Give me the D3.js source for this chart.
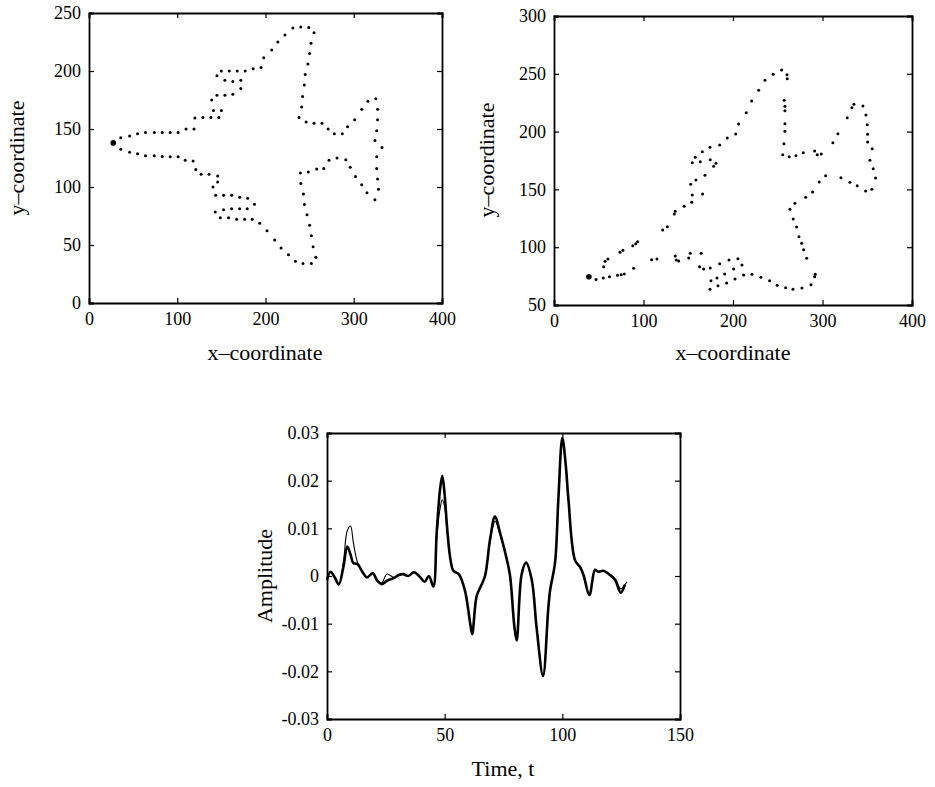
<!DOCTYPE html>
<html>
<head>
<meta charset="utf-8">
<script src="https://cdn.jsdelivr.net/npm/d3@7"></script>
<style>
  body { margin: 0; background: #fff; }
  text { font-family: "Liberation Serif", "Times New Roman", serif; fill: #000; }
</style>
</head>
<body>
<div id="chart"></div>
<script>
// outline points of the original shape, [x, y]
var shapeA = [
  [27.5,138],
  [36,142.5],[46,144],[55,146],[64,147],[74,147],[83,147],[92,147],[101,147],[110,150],[119,150],
  [120,159.5],[129,160],[138,160],[147,160],[141,166],[150,166],
  [139,175],[145,179],[154,179],[163,180],[172,185],
  [145,196],[154,192],[163,191],[172,192],
  [150,200],[159,200],[168,200],[177,200],[186,202],[195,203],[198,211.5],
  [207,218],[214,225],[222,231],[231,237],[240,238],[249,237.5],[255,233],[251.5,224],[250,215],
  [248,206],[245,197],[244,188],[242,178],[241,169],[238,160],[246,156],[255,155],[264,155],
  [271,150],[278,146],[287,146],[293,152],[301,158],[309,167],[316,174],[325,176],
  [327,167],[327,158],[326,148.5],[324,140],[332,134],[326,126],[326,116],[327,107],[328,98],
  [324,89],[315,95],[309,102],[302,109],[296,117],[291,123.5],[281,125],[272,123],[266,116],
  [258,115.5],[248.5,113],[239.5,112],[240,103],[243,94],[244,85],[247,76],[250,67],[252,58],
  [254,48.5],[257,39.5],[252,34],[242.5,34],[234,36],[226,41.6],[217.6,47.4],[210.4,54.3],
  [201.7,62.3],[193.4,68.7],[185,72.2],[176.4,72.2],[167.3,72.2],[158.2,73.5],[148.8,73.5],
  [143,78.4],[152.5,80.4],[161.6,81.3],[170.7,81.3],[179.3,81.3],[187.5,85.2],[179.8,90.2],
  [170.7,91.1],[161.6,92.8],[152.5,92.8],[143.5,92.8],[140.5,100],[145.8,104.3],[145.8,109.5],
  [136,111],[127,111],[121,115],[118,122.4],[109,123],[101,126],[92,126],[83,126.4],[74,127],
  [64,127],[55,128.7],[46,130],[36,132.5]
];

// outline points of the transformed shape, [x, y]
var shapeB = [
  [39,74.5],
  [47,72],[55,73.4],[62,74.5],[71,75.7],[75,76.2],[78.5,76.8],[89,81.7],
  [55.5,83],[57,87.8],[60.3,89.8],[73.7,95.6],[77,97.3],[88,101.3],[91.3,103],[93.5,104.8],
  [109,89.2],[115,89.8],[135.5,92.4],[136.6,88.9],[139.3,88.1],[150.5,90.7],[152.3,94.7],
  [162.7,83.1],[167.2,81.2],[164.5,94.7],
  [174.6,82],[185.1,85.7],[195.5,88.9],[200.7,81.1],[205.5,90],[210,84.6],[211.9,76],
  [221.2,76.6],[231.2,74],[240.9,71],[249.4,67],[258.8,65],[267,63.6],[277,64.7],[287.1,67.6],
  [291.2,74.5],[291.9,76.6],
  [282.3,90.4],[278.9,97.8],[276.7,103.4],[273.7,109.1],[271.1,117.5],[267.3,124.4],[263.6,132.8],
  [269.2,138],[281.2,143.2],[289,147.7],[296.3,156.4],[303.5,161.8],[320.6,160.1],[330.6,156.1],
  [338.8,153.2],[348.2,148.6],[355.2,150.1],[359.3,159.9],[356.7,167.9],[353,175.2],[355.5,185.2],
  [350.4,191],[350.4,197.7],[350,206],[348.5,214.4],[345.2,222.1],[335.1,223.6],[332.9,220.7],
  [327.6,212],[317.2,198.2],[311.6,190.4],[298.6,180.6],[294.1,180],[291.2,183.2],[278.5,181.7],
  [270.3,179.1],[262.8,178.3],[255.5,180],[256.9,189.5],[258,200.2],[258,206.8],[258,218.1],
  [258,221.9],[257.2,227.1],[260.6,245.8],[260.3,249.2],[254.3,253.3],[245,249.6],[235.7,244.4],
  [228.7,235.7],[220.8,226.5],[214.8,216.3],[206.3,206.6],[203,197.9],[193.6,194.5],[185.1,188.4],
  [174.3,186.4],[165.7,182.6],[163.4,174],[157.8,177.8],[154.5,173.1],[174.6,175.7],[178.4,170],
  [181,172.6],[168.7,162.2],[158.6,158.1],[152.7,154.4],[154.5,145.2],[166,146],
  [153.8,138.8],[145.5,135.4],[135.5,131],[134.4,128.7],[126.6,117.7],[121.4,114.9],
  [192.9,69],[190.7,76.8],[202.2,72.5],[182.1,73.4],[183.2,66.7],[175.4,71],[174.3,63.6]
];

// amplitude curves
var thickT = [0,1.5,3.3,5,7,8.6,10,11.2,13,15,17,19.4,21.4,23.2,25.5,28.5,30.5,32.4,34.5,37,39.5,
  41.5,43.3,45.2,46.6,48,49,50,51,52.3,53.7,56,58.6,60.8,61.7,63.6,65.7,67.2,69.3,71.4,73.5,76.4,
  77.8,79.6,80.6,82.7,84.6,87,89.1,91.8,94,94.8,96.9,98.3,100,101.5,102.6,105.4,107.5,109,111.5,
  113.9,115.3,117.4,120.3,122.4,124.8,126.6];
var thickA = [-0.0008,0.0009,-0.0003,-0.0018,0.002,0.0062,0.0045,0.0027,0.0025,0.0009,-0.0003,0.0006,
  -0.001,-0.0017,-0.001,-0.0004,0.0002,0.0004,0,0.0008,-0.0002,-0.0012,0,-0.0022,0.009,0.018,0.021,
  0.017,0.0104,0.004,0.0011,0.0004,-0.003,-0.0098,-0.0122,-0.0042,-0.0018,0.0001,0.0077,0.0125,
  0.0091,0.0035,0,-0.0105,-0.0135,0.0003,0.0028,-0.0008,-0.011,-0.021,-0.007,-0.003,0.0028,0.016,
  0.029,0.023,0.016,0.0033,0.0019,0.0002,-0.004,0.0013,0.0009,0.0011,0.0002,-0.0008,-0.0035,-0.0018];
var thinT = [0,1.5,3.3,5,7,8.6,10,11.2,13,15,17,19.4,21.4,23.2,25.5,28.5,30.5,32.4,34.5,37,39.5,
  41.5,43.3,45.2,46.6,48,49,50,51,52.3,53.7,56,58.6,60.8,61.7,63.6,65.7,67.2,69.3,71.4,73.5,76.4,
  77.8,79.6,80.6,82.7,84.6,87,89.1,91.8,94,94.8,96.9,98.3,100,101.5,102.6,105.4,107.5,109,111.5,
  113.9,115.3,117.4,120.3,122.4,124.8,126.6,127.5];
var thinA = [-0.0008,0.0009,-0.0003,-0.0018,0.003,0.0095,0.0105,0.007,0.0028,0.001,-0.0003,0.0006,
  -0.001,-0.0015,0.0004,-0.0003,0.0002,0.0004,0,0.0008,-0.0002,-0.0012,0,-0.0022,0.008,0.014,0.016,
  0.0145,0.0095,0.004,0.0011,0.0004,-0.003,-0.0098,-0.0122,-0.0042,-0.0018,0.0001,0.0072,0.0115,
  0.0088,0.0035,0,-0.0105,-0.0135,0.0003,0.0028,-0.0008,-0.011,-0.021,-0.007,-0.003,0.0028,0.016,
  0.029,0.023,0.016,0.0033,0.0019,0.0002,-0.004,0.0013,0.0009,0.0011,0.0002,-0.0006,-0.0027,-0.0018,-0.0012];

// tick values
var xyTicksX = [0, 100, 200, 300, 400];
var leftTicksY = [0, 50, 100, 150, 200, 250];
var rightTicksY = [50, 100, 150, 200, 250, 300];
var timeTicks = [0, 50, 100, 150];
var ampTicks = [-0.03, -0.02, -0.01, 0, 0.01, 0.02, 0.03];

var W = 935, H = 787;
var serif = "'Liberation Serif', 'Times New Roman', serif";
var svg = d3.select("#chart").append("svg")
    .attr("width", W)
    .attr("height", H)
    .style("font-family", serif);

// draws a boxed frame with inward ticks on all four sides
function frame(g, x, y, xt, yt, xfmt, yfmt) {
    var x0 = x.range()[0], x1 = x.range()[1];
    var y0 = y.range()[0], y1 = y.range()[1];

    var axes = [];
    axes.push(g.append("g").attr("transform", "translate(0," + y0 + ")")
        .call(d3.axisBottom(x).tickValues(xt).tickSize(-5).tickPadding(9).tickFormat(xfmt)));
    axes.push(g.append("g").attr("transform", "translate(0," + y1 + ")")
        .call(d3.axisTop(x).tickValues(xt).tickSize(-5).tickFormat("")));
    axes.push(g.append("g").attr("transform", "translate(" + x0 + ",0)")
        .call(d3.axisLeft(y).tickValues(yt).tickSize(-5).tickPadding(8).tickFormat(yfmt)));
    axes.push(g.append("g").attr("transform", "translate(" + x1 + ",0)")
        .call(d3.axisRight(y).tickValues(yt).tickSize(-5).tickFormat("")));

    // d3 puts sans-serif 10px on each axis group, swap it for the serif face
    axes.forEach(function(a){
        a.attr("font-family", serif).attr("font-size", 18);
    });

    g.selectAll(".domain").attr("stroke", "#000").attr("stroke-width", 1.8);
    g.selectAll(".tick line").attr("stroke", "#000").attr("stroke-width", 1.2);
    g.selectAll(".tick text").attr("fill", "#000");
}

// scatter panel
function dotPanel(points, xr, yr, yDomain, yTicks, xLabelPos, yLabelPos) {
    var x = d3.scaleLinear().domain([0, 400]).range(xr);
    var y = d3.scaleLinear().domain(yDomain).range(yr);
    var g = svg.append("g");

    frame(g, x, y, xyTicksX, yTicks, d3.format("d"), d3.format("d"));

    g.selectAll("circle.pt")
        .data(points)
        .enter()
        .append("circle")
        .attr("class", "pt")
        .attr("cx", function(d){ return x(d[0]); })
        .attr("cy", function(d){ return y(d[1]); })
        // first point is the bigger starting dot
        .attr("r", function(d, i){ return i === 0 ? 2.8 : 1.5; })
        .attr("fill", "#000");

    g.append("text")
        .attr("x", xLabelPos[0]).attr("y", xLabelPos[1])
        .attr("text-anchor", "middle")
        .style("font-size", "22px")
        .text("x\u2013coordinate");

    g.append("text")
        .attr("transform", "translate(" + yLabelPos[0] + "," + yLabelPos[1] + ") rotate(-90)")
        .attr("text-anchor", "middle")
        .style("font-size", "22px")
        .text("y\u2013coordinate");
}

dotPanel(shapeA, [89, 442], [303, 13], [0, 250], leftTicksY, [265, 360], [24, 158]);
dotPanel(shapeB, [554, 912], [305, 16], [50, 300], rightTicksY, [733, 360], [494, 160]);

// amplitude panel
var tx = d3.scaleLinear().domain([0, 150]).range([327, 680]);
var ay = d3.scaleLinear().domain([-0.03, 0.03]).range([719, 433]);
var g3 = svg.append("g");

frame(g3, tx, ay, timeTicks, ampTicks, d3.format("d"), function(d){
    return d === 0 ? "0" : d3.format(".2f")(d).replace("\u2212", "-");
});

var line = d3.line()
    .x(function(d){ return tx(d[0]); })
    .y(function(d){ return ay(d[1]); })
    .curve(d3.curveCatmullRom.alpha(0.5));

g3.append("path")
    .datum(d3.zip(thinT, thinA))
    .attr("d", line)
    .attr("fill", "none")
    .attr("stroke", "#000")
    .attr("stroke-width", 1.1);

g3.append("path")
    .datum(d3.zip(thickT, thickA))
    .attr("d", line)
    .attr("fill", "none")
    .attr("stroke", "#000")
    .attr("stroke-width", 2.6);

g3.append("text")
    .attr("x", 503).attr("y", 776)
    .attr("text-anchor", "middle")
    .style("font-size", "22px")
    .text("Time, t");

g3.append("text")
    .attr("transform", "translate(272,576) rotate(-90)")
    .attr("text-anchor", "middle")
    .style("font-size", "22px")
    .text("Amplitude");
</script>
</body>
</html>
